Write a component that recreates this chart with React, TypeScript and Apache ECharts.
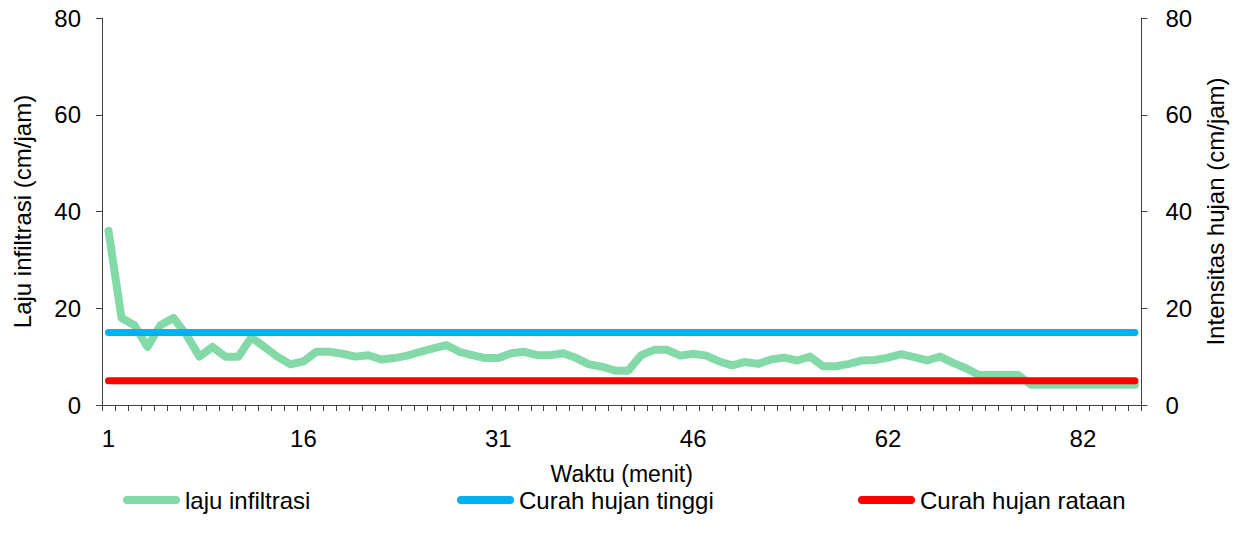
import React, { useEffect, useRef } from "react";
import * as echarts from "echarts";

// Minute labels (category axis) as read from the x-axis
const minutes = [
  1, 2, 3, 4, 5, 6, 7, 8, 9, 10, 11, 12, 13, 14, 15, 16, 17, 18, 19, 20,
  21, 22, 23, 24, 25, 26, 27, 28, 29, 30, 31, 32, 33, 34, 35, 36, 37, 38, 39, 40,
  41, 42, 43, 44, 45, 46, 47, 48, 49, 50, 51, 52, 53, 55, 56, 57, 58, 59, 60, 61,
  62, 63, 64, 65, 66, 68, 69, 70, 71, 73, 74, 76, 77, 79, 80, 82, 83, 84, 85, 86,
];

// Infiltration rate (cm/jam)
const infiltrationRate = [
  36, 18, 16.5, 12, 16.5, 18, 14.5, 10, 12, 10, 10, 14, 12, 10, 8.4, 9, 11, 11, 10.6, 10,
  10.3, 9.4, 9.7, 10.2, 11, 11.7, 12.4, 11, 10.3, 9.7, 9.7, 10.7, 11, 10.3, 10.3, 10.7, 9.7, 8.4, 7.9, 7.1,
  7.1, 10.3, 11.4, 11.4, 10.2, 10.6, 10.2, 9, 8.2, 8.9, 8.5, 9.4, 9.8, 9.2, 10, 8, 8, 8.5, 9.2, 9.3,
  9.8, 10.5, 9.9, 9.2, 10, 8.7, 7.6, 6.2, 6.2, 6.2, 6.2, 4.2, 4.2, 4.2, 4.2, 4.2, 4.2, 4.2, 4.2, 4.2,
];

// High rainfall intensity (cm/jam)
const highRainfall = [
  15, 15, 15, 15, 15, 15, 15, 15, 15, 15, 15, 15, 15, 15, 15, 15, 15, 15, 15, 15,
  15, 15, 15, 15, 15, 15, 15, 15, 15, 15, 15, 15, 15, 15, 15, 15, 15, 15, 15, 15,
  15, 15, 15, 15, 15, 15, 15, 15, 15, 15, 15, 15, 15, 15, 15, 15, 15, 15, 15, 15,
  15, 15, 15, 15, 15, 15, 15, 15, 15, 15, 15, 15, 15, 15, 15, 15, 15, 15, 15, 15,
];

// Average rainfall intensity (cm/jam)
const averageRainfall = [
  5, 5, 5, 5, 5, 5, 5, 5, 5, 5, 5, 5, 5, 5, 5, 5, 5, 5, 5, 5,
  5, 5, 5, 5, 5, 5, 5, 5, 5, 5, 5, 5, 5, 5, 5, 5, 5, 5, 5, 5,
  5, 5, 5, 5, 5, 5, 5, 5, 5, 5, 5, 5, 5, 5, 5, 5, 5, 5, 5, 5,
  5, 5, 5, 5, 5, 5, 5, 5, 5, 5, 5, 5, 5, 5, 5, 5, 5, 5, 5, 5,
];

const seriesNames = ["laju infiltrasi", "Curah hujan tinggi", "Curah hujan rataan"];
const seriesColors = ["#84D9A9", "#00B0F0", "#FF0000"];

const FONT = "'Liberation Sans', Arial, sans-serif";
const FS = 24;
const capsule = "path://M4,0 L53,0 A4,4 0 0 1 53,8 L4,8 A4,4 0 0 1 4,0 Z";

export default function App() {
  const ref = useRef<HTMLDivElement>(null);

  useEffect(() => {
    if (!ref.current) return;
    const chart = echarts.init(ref.current, null, { renderer: "svg" });
    const axisLine = { show: true, lineStyle: { color: "#404040", width: 1 } };
    const legendBase = {
      top: 488,
      padding: 0,
      itemWidth: 57,
      itemHeight: 8,
      icon: capsule,
      textStyle: { fontFamily: FONT, fontSize: FS, color: "#000", lineHeight: 20 },
      selectedMode: false,
    };
    chart.setOption({
      animation: false,
      textStyle: { fontFamily: FONT },
      grid: { left: 102, right: 88, top: 18, bottom: 132, containLabel: false },
      legend: [
        { ...legendBase, left: 123, data: [seriesNames[0]] },
        { ...legendBase, left: 457, data: [seriesNames[1]] },
        { ...legendBase, left: 858, data: [seriesNames[2]] },
      ],
      xAxis: {
        type: "category",
        data: minutes,
        boundaryGap: true,
        name: "Waktu (menit)",
        nameLocation: "middle",
        nameGap: 59,
        nameTextStyle: { fontFamily: FONT, fontSize: 23, color: "#000", lineHeight: 20 },
        axisLine,
        axisTick: { show: true, interval: 0, length: 6, lineStyle: { color: "#404040" } },
        axisLabel: { interval: 14, fontFamily: FONT, fontSize: FS, color: "#000", margin: 21 },
        splitLine: { show: false },
      },
      yAxis: [
        {
          type: "value",
          min: 0,
          max: 80,
          interval: 20,
          name: "Laju infiltrasi (cm/jam)",
          nameLocation: "middle",
          nameGap: 68,
          nameTextStyle: { fontFamily: FONT, fontSize: FS, color: "#000" },
          axisLine,
          axisTick: { show: true, length: 6, lineStyle: { color: "#404040" } },
          axisLabel: { fontFamily: FONT, fontSize: FS, color: "#000", margin: 21 },
          splitLine: { show: false },
        },
        {
          type: "value",
          min: 0,
          max: 80,
          interval: 20,
          position: "right",
          name: "Intensitas hujan (cm/jam)",
          nameLocation: "middle",
          nameGap: 57,
          nameRotate: 90,
          nameTextStyle: { fontFamily: FONT, fontSize: FS, color: "#000" },
          axisLine,
          axisTick: { show: true, length: 6, lineStyle: { color: "#404040" } },
          axisLabel: { fontFamily: FONT, fontSize: FS, color: "#000", margin: 24 },
          splitLine: { show: false },
        },
      ],
      series: [
        {
          name: seriesNames[0],
          type: "line",
          data: infiltrationRate,
          yAxisIndex: 0,
          showSymbol: false,
          symbol: "none",
          color: seriesColors[0],
          lineStyle: { width: 8, color: seriesColors[0], cap: "round", join: "round" },
          z: 2,
        },
        {
          name: seriesNames[1],
          type: "line",
          data: highRainfall,
          yAxisIndex: 1,
          showSymbol: false,
          symbol: "none",
          color: seriesColors[1],
          lineStyle: { width: 7, color: seriesColors[1], cap: "round", join: "round" },
          z: 3,
        },
        {
          name: seriesNames[2],
          type: "line",
          data: averageRainfall,
          yAxisIndex: 1,
          showSymbol: false,
          symbol: "none",
          color: seriesColors[2],
          lineStyle: { width: 7, color: seriesColors[2], cap: "round", join: "round" },
          z: 4,
        },
      ],
    });
    return () => chart.dispose();
  }, []);

  return (
    <div
      ref={ref}
      style={{ position: "fixed", left: 0, top: 0, width: 1235, height: 537, background: "#fff" }}
    />
  );
}
